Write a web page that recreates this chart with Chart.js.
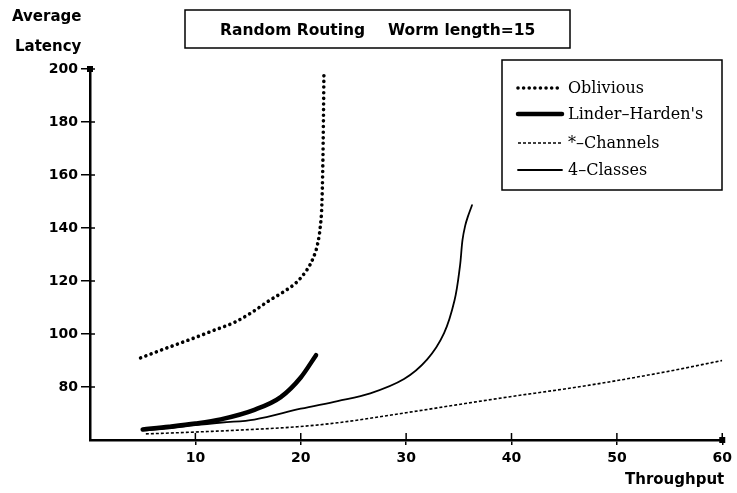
<!DOCTYPE html>
<html>
<head>
<meta charset="utf-8">
<script src="https://cdn.jsdelivr.net/npm/chart.js@4.4.1/dist/chart.umd.min.js"></script>
<style>
  html, body { margin: 0; padding: 0; background: #fff; }
  canvas { display: block; }
</style>
</head>
<body>
<canvas id="c" width="737" height="493"></canvas>
<script>
// ---- data ----
const seriesNames = ["Oblivious", "Linder\u2013Harden's", "*\u2013Channels", "4\u2013Classes"];

const obliviousX = [4.8, 7, 9.4, 11.5, 13.8, 15.3, 17, 18.4, 19.6, 20.6, 21.15, 21.6, 21.85, 22.0, 22.1, 22.15, 22.2];
const obliviousY = [91, 94.3, 97.8, 101, 104.6, 108, 112.6, 116, 119.5, 124.3, 128.4, 134, 140.4, 148.6, 165, 180, 199];

const linderX = [5, 7.5, 10, 12.4, 15.6, 18.1, 20, 21.45];
const linderY = [64, 65, 66.2, 67.8, 71.4, 76.2, 83.6, 92];

const channelsX = [5.3, 10, 15, 19.7, 23.5, 30, 38.6, 47.4, 55, 60];
const channelsY = [62.3, 63, 63.9, 65, 66.5, 70.3, 75.6, 80.7, 86, 90];

const classesX = [5, 7.5, 10, 12.5, 15.6, 20, 23.5, 26.6, 29.8, 32, 33.6, 34.6, 35.1, 35.35, 35.6, 35.85, 36.25];
const classesY = [63.6, 64.4, 65.6, 66.6, 67.7, 71.8, 74.7, 77.6, 83, 90.4, 100.3, 112.8, 125.3, 135.5, 140.8, 144.2, 148.6];

const xTicks = [10, 20, 30, 40, 50, 60];
const yTicks = [80, 100, 120, 140, 160, 180, 200];

const titleParts = ["Random Routing", "Worm length=15"];
const yTitle = ["Average", "Latency"];
const xTitle = "Throughput";

// ---- build ----
const pts = (xs, ys) => xs.map((x, i) => ({ x: x, y: ys[i] }));

const styles = [
  { borderWidth: 3.6, borderDash: [0.01, 5.6], borderCapStyle: 'round', cubicInterpolationMode: 'monotone' },
  { borderWidth: 4.5, borderDash: [], borderCapStyle: 'round', cubicInterpolationMode: 'monotone' },
  { borderWidth: 1.6, borderDash: [3, 2], borderCapStyle: 'butt', cubicInterpolationMode: 'monotone' },
  { borderWidth: 1.8, borderDash: [], borderCapStyle: 'round', cubicInterpolationMode: 'default', tension: 0.35 }
];
const seriesData = [pts(obliviousX, obliviousY), pts(linderX, linderY), pts(channelsX, channelsY), pts(classesX, classesY)];

const datasets = seriesNames.map((name, i) => Object.assign({
  label: name,
  data: seriesData[i],
  borderColor: '#000',
  backgroundColor: '#000',
  pointRadius: 0,
  fill: false
}, styles[i]));

const decor = {
  id: 'decor',
  afterDraw(chart) {
    const ctx = chart.ctx, xs = chart.scales.x, ys = chart.scales.y, ca = chart.chartArea;
    ctx.save();
    ctx.strokeStyle = '#000';
    ctx.fillStyle = '#000';
    ctx.setLineDash([]);
    // inner tick parts
    ctx.lineWidth = 1.5;
    xTicks.forEach(v => {
      const px = xs.getPixelForValue(v);
      ctx.beginPath(); ctx.moveTo(px, ca.bottom); ctx.lineTo(px, ca.bottom - 7); ctx.stroke();
    });
    yTicks.forEach(v => {
      const py = ys.getPixelForValue(v);
      ctx.beginPath(); ctx.moveTo(ca.left, py); ctx.lineTo(ca.left + 5, py); ctx.stroke();
    });
    // axis end squares
    ctx.fillRect(ca.left - 3, ys.getPixelForValue(ys.max) - 3, 6, 6);
    ctx.fillRect(xs.getPixelForValue(xs.max) - 3, ca.bottom - 3, 6, 6);

    // title box
    ctx.lineWidth = 1.5;
    ctx.strokeRect(185, 10, 385, 38);
    ctx.font = 'bold 15.5px "DejaVu Sans"';
    ctx.textBaseline = 'middle';
    ctx.textAlign = 'left';
    ctx.fillText(titleParts[0], 220, 31);
    ctx.fillText(titleParts[1], 388, 31);

    // axis titles
    ctx.font = 'bold 15px "DejaVu Sans"';
    ctx.fillText(yTitle[0], 12, 17);
    ctx.fillText(yTitle[1], 15, 47);
    ctx.fillText(xTitle, 625, 480);

    // legend
    ctx.lineWidth = 1.5;
    ctx.strokeRect(502, 60, 220, 130);
    const rows = [88, 114, 143, 170];
    ctx.font = '16px "DejaVu Serif"';
    chart.data.datasets.forEach((ds, i) => {
      const y = rows[i];
      ctx.save();
      ctx.lineWidth = ds.borderWidth;
      ctx.setLineDash(ds.borderDash);
      ctx.lineCap = ds.borderCapStyle;
      ctx.beginPath(); ctx.moveTo(518, y); ctx.lineTo(562, y); ctx.stroke();
      ctx.restore();
      ctx.fillText(ds.label, 568, y + 1);
    });
    ctx.restore();
  }
};

const tickFont = { family: 'DejaVu Sans', weight: 'bold', size: 14 };

new Chart(document.getElementById('c'), {
  type: 'line',
  data: { datasets: datasets },
  plugins: [decor],
  options: {
    responsive: false,
    animation: false,
    devicePixelRatio: 1,
    layout: { padding: { top: 69, right: 10, left: 0, bottom: 0 } },
    plugins: { legend: { display: false }, tooltip: { enabled: false }, title: { display: false } },
    scales: {
      x: {
        type: 'linear', min: 0, max: 60,
        afterBuildTicks: s => { s.ticks = xTicks.map(v => ({ value: v })); },
        afterFit: s => { s.height = 53; },
        grid: { drawOnChartArea: false, drawTicks: true, tickLength: 5, color: '#000', lineWidth: 1.5 },
        border: { color: '#000', width: 2.5 },
        ticks: { color: '#000', font: tickFont, padding: 5, maxRotation: 0, autoSkip: false }
      },
      y: {
        type: 'linear', min: 60, max: 200,
        afterBuildTicks: s => { s.ticks = yTicks.map(v => ({ value: v })); },
        afterFit: s => { s.width = 90; },
        grid: { drawOnChartArea: false, drawTicks: true, tickLength: 9, color: '#000', lineWidth: 1.5 },
        border: { color: '#000', width: 2.5 },
        ticks: { color: '#000', font: tickFont, padding: 3, autoSkip: false }
      }
    }
  }
});
</script>
</body>
</html>
